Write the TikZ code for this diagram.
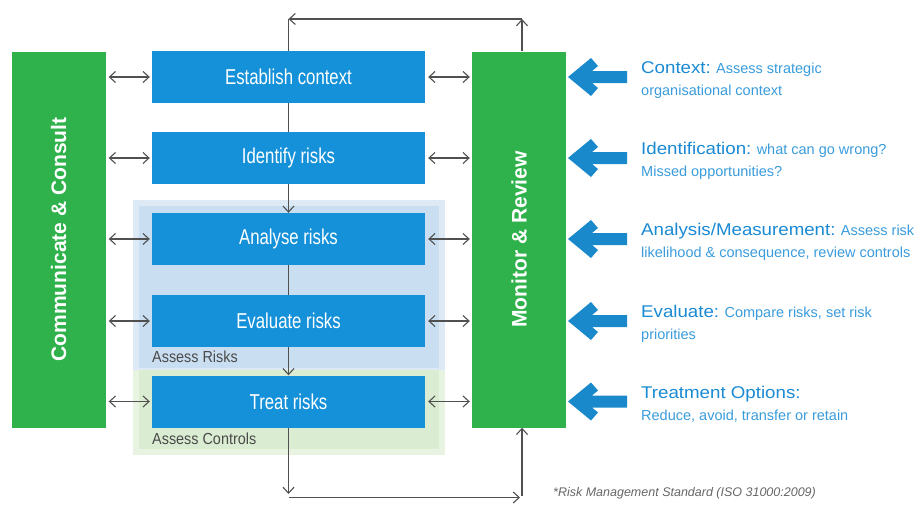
\documentclass[tikz,border=0pt]{standalone}
\usepackage{fontspec}
\setmainfont{Liberation Sans}
\newfontfamily\boxfont[FakeStretch=0.78]{Liberation Sans}
\newfontfamily\titlefont[FakeStretch=1.1]{Liberation Sans}
\newfontfamily\labfont[FakeStretch=0.9]{Liberation Sans}
\usetikzlibrary{arrows.meta}
\definecolor{procblue}{HTML}{1591D9}
\definecolor{mgreen}{HTML}{2FB24B}
\definecolor{arrowblue}{HTML}{1A89CC}
\definecolor{titleblue}{HTML}{1A8AD4}
\definecolor{bodyblue}{HTML}{3A9CDC}
\definecolor{linegrey}{HTML}{505050}
\definecolor{labgrey}{HTML}{4A4A4A}
\definecolor{shadeblueout}{HTML}{DDEAF6}
\definecolor{shadebluein}{HTML}{C9DEF1}
\definecolor{shadegreenout}{HTML}{E8F3E2}
\definecolor{shadegreenin}{HTML}{DAECD2}
\newcommand\rtitle[1]{{\titlefont\fontsize{17}{20}\selectfont\color{titleblue}#1}}
\begin{document}
\begin{tikzpicture}[x=1pt,y=-1pt,
  procbox/.style={fill=procblue, minimum width=273pt, minimum height=52pt, inner sep=0pt, text=white, font=\boxfont\fontsize{21.5}{24}\selectfont},
  greenbar/.style={fill=mgreen, minimum width=94pt, minimum height=376pt, inner sep=0pt},
  bartext/.style={rotate=90, text=white, inner sep=0pt, font=\bfseries\fontsize{21}{24}\selectfont},
  conn/.style={draw=linegrey, line width=1.1pt},
  arrowend/.style={conn, -{Straight Barb[length=6pt,width=11pt]}},
  dbl/.style={conn, {Straight Barb[length=6pt,width=11pt]}-{Straight Barb[length=6pt,width=11pt]}, shorten <=3pt, shorten >=2pt},
  sidetext/.style={anchor=base west, inner sep=0pt, text=bodyblue, font=\fontsize{14.5}{17}\selectfont},
  areatext/.style={anchor=west, inner sep=0pt, text=labgrey, font=\labfont\fontsize{16}{18}\selectfont},
  foot/.style={anchor=west, inner sep=0pt, text=black!60, font=\itshape\fontsize{12.5}{14}\selectfont},
  bigarrow/.style={fill=arrowblue}
]
\useasboundingbox (0,0) rectangle (924,506);
\fill[white] (0,0) rectangle (924,506);

% shaded assessment areas
\fill[shadegreenout] (133,366) rectangle (445,455);
\fill[shadegreenin] (139,370) rectangle (439,449);
\fill[shadeblueout] (133,200) rectangle (445,370);
\fill[shadebluein] (139,206) rectangle (439,368);

% green bars
\node[greenbar] (lbar) at (58.5,239.5) {};
\node[greenbar] (rbar) at (519,239.5) {};
\node[bartext] (ltext) at (lbar.center) {Communicate \& Consult};
\node[bartext] (rtext) at (rbar.center) {Monitor \& Review};

% process boxes
\node[procbox] (est) at (288.5,77) {Establish context};
\node[procbox] (ide) at (288.5,158) {Identify risks};
\node[procbox] (ana) at (288.5,239) {Analyse risks};
\node[procbox] (eva) at (288.5,321) {Evaluate risks};
\node[procbox] (tre) at (288.5,401.5) {Treat risks};

\node[areatext] (arisk) at (152,357) {Assess Risks};
\node[areatext] (actrl) at (152,439) {Assess Controls};

% loop coordinates
\coordinate (tl) at (288.5,19);
\coordinate (tr) at (522,19);
\coordinate (bd) at (288.5,494);
\coordinate (bl) at (288.5,497.5);
\coordinate (be) at (520,497.5);
\coordinate (br) at (522,496);

\draw[arrowend] (tr |- rbar.north) -- (tr);
\draw[arrowend] (tr) -- (tl);
\draw[conn] (tl) -- (est.north);
\draw[conn] (est.south) -- (ide.north);
\draw[arrowend] (ide.south) -- (ana.north);
\draw[conn] (ana.south) -- (eva.north);
\draw[arrowend] (eva.south) -- (tre.north);
\draw[arrowend] (tre.south) -- (bd);
\draw[arrowend] (bl) -- (be);
\draw[arrowend] (br) -- (br |- rbar.south);

% two-way arrows
\foreach \b in {est,ide,ana,eva,tre}{
  \draw[dbl] (lbar.east |- \b.west) -- (\b.west);
  \draw[dbl] (\b.east) -- (rbar.west |- \b.east);
}

% big blue arrows
\foreach \yy/\nm in {77/a1,158/a2,239/a3,321/a4,401.5/a5}{
  \coordinate (\nm) at (568,\yy);
  \fill[bigarrow, shift={(\nm)}] (0,0) -- (23,-19) -- (30,-11) -- (24,-6) -- (59,-6) -- (59,6) -- (24,6) -- (30,11) -- (23,19) -- cycle;
}

% side texts
\node[sidetext] (s1a) at (641,73) {\rtitle{Context:} Assess strategic};
\node[sidetext] (s1b) at (641,95) {organisational context};
\node[sidetext] (s2a) at (641,154) {\rtitle{Identification:} what can go wrong?};
\node[sidetext] (s2b) at (641,176) {Missed opportunities?};
\node[sidetext] (s3a) at (641,235) {\rtitle{Analysis/Measurement:} Assess risk};
\node[sidetext] (s3b) at (641,257) {likelihood \& consequence, review controls};
\node[sidetext] (s4a) at (641,317) {\rtitle{Evaluate:} Compare risks, set risk};
\node[sidetext] (s4b) at (641,339) {priorities};
\node[sidetext] (s5a) at (641,398) {\rtitle{Treatment Options:}};
\node[sidetext] (s5b) at (641,420) {Reduce, avoid, transfer or retain};

\node[foot] (fn) at (553,493) {*Risk Management Standard (ISO 31000:2009)};
\end{tikzpicture}
\end{document}
